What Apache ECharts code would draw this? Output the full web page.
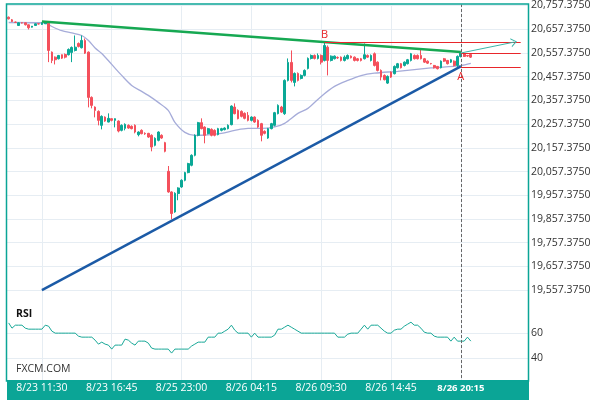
<!DOCTYPE html>
<html><head><meta charset="utf-8">
<script src="https://cdn.jsdelivr.net/npm/echarts@6/dist/echarts.min.js"></script>
<style>html,body{margin:0;padding:0;background:#fff}#c{width:600px;height:400px}</style>
</head><body><div id="c"></div>
<script>
// ---- axis slots & tick labels ----
const slotCount = 157;
const tickIndex = [10, 31, 52, 73, 94, 115, 136];
const tickLabels = ['8/23 11:30', '8/23 16:45', '8/25 23:00', '8/26 04:15', '8/26 09:30', '8/26 14:45', '8/26 20:15'];
const priceTickValues = [19557.375, 19657.375, 19757.375, 19857.375, 19957.375, 20057.375, 20157.375, 20257.375, 20357.375, 20457.375, 20557.375, 20657.375, 20757.375];
const rsiTickValues = [40, 60];

// ---- candles (15 min) ----
const opens = [20708.1,20697.1,20687.0,20673.1,20684.5,20684.5,20676.1,20666.0,20673.1,20680.3,
20677.4,20680.3,20682.8,20560.7,20539.7,20532.9,20549.8,20551.0,20549.8,20559.5,
20567.9,20597.3,20579.3,20610.0,20560.7,20370.0,20329.1,20311.0,20252.1,20287.0,
20266.0,20280.3,20273.1,20270.2,20231.0,20239.4,20252.1,20247.9,20252.1,20212.9,
20231.0,20218.4,20218.4,20210.0,20167.9,20188.9,20210.0,20179.2,20058.4,19971.3,
19887.0,19964.5,19992.3,20020.5,20052.9,20083.7,20125.8,20210.0,20263.4,20244.9,
20217.1,20235.2,20231.0,20212.9,20231.0,20234.0,20238.2,20255.0,20329.1,20315.2,
20311.0,20302.6,20294.2,20273.1,20287.0,20273.1,20259.3,20226.8,20198.6,20238.2,
20252.1,20301.4,20329.1,20301.4,20441.6,20517.4,20433.1,20471.0,20450.0,20462.6,
20492.1,20534.2,20546.8,20534.2,20546.8,20525.8,20581.8,20525.8,20532.9,20538.4,
20539.7,20525.8,20532.9,20543.9,20539.7,20532.9,20532.9,20532.9,20546.8,20525.8,
20554.0,20518.6,20483.7,20462.6,20430.2,20476.5,20469.8,20495.0,20511.9,20504.7,
20511.9,20525.8,20546.8,20546.8,20546.8,20532.9,20522.8,20513.1,20504.7,20500.5,
20495.0,20532.9,20525.8,20518.6,20522.8,20504.7,20542.6,20554.0,20546.8,20551.0];
const closes = [20701.3,20690.0,20686.2,20684.5,20683.7,20676.1,20663.5,20670.2,20680.3,20679.5,
20684.5,20687.0,20567.9,20525.8,20528.7,20546.8,20535.5,20539.7,20572.1,20580.5,
20581.8,20584.7,20610.0,20556.5,20370.0,20336.3,20315.2,20273.1,20290.0,20270.2,
20281.6,20273.1,20280.3,20228.1,20252.1,20256.3,20240.7,20238.2,20223.9,20223.9,
20217.1,20216.3,20202.8,20160.7,20197.4,20223.9,20198.6,20142.6,19971.3,19880.3,
19965.8,19988.1,20020.5,20052.9,20090.8,20125.8,20210.0,20263.4,20238.2,20210.0,
20238.2,20210.0,20210.0,20238.2,20238.2,20240.7,20252.1,20333.3,20301.4,20280.3,
20290.0,20281.6,20273.1,20287.0,20266.0,20244.9,20210.0,20218.4,20238.2,20259.3,
20305.6,20336.3,20308.1,20441.6,20517.4,20441.6,20471.0,20441.6,20462.6,20483.7,
20534.2,20546.8,20534.2,20546.8,20518.6,20588.9,20525.8,20543.9,20543.9,20536.3,
20525.8,20539.7,20546.8,20537.1,20525.8,20525.8,20525.8,20549.8,20539.7,20546.8,
20504.7,20483.7,20455.5,20444.5,20458.4,20455.5,20500.5,20511.9,20495.0,20518.6,
20528.7,20554.0,20532.9,20532.9,20532.9,20518.6,20514.4,20511.9,20495.0,20490.8,
20522.8,20522.8,20511.9,20528.7,20504.7,20542.6,20556.5,20542.6,20544.3,20539.7];
const lows = [20698.4,20687.9,20683.7,20671.0,20681.6,20673.1,20656.3,20664.7,20671.0,20677.4,
20675.2,20679.5,20518.6,20514.4,20508.9,20530.0,20532.1,20534.2,20546.8,20518.6,
20563.7,20580.5,20576.3,20553.1,20327.9,20323.7,20285.8,20252.1,20235.2,20266.8,
20264.7,20268.9,20243.7,20222.6,20226.8,20231.0,20237.4,20235.2,20218.4,20205.8,
20214.2,20212.1,20199.5,20142.6,20163.7,20184.7,20195.3,20138.4,19967.9,19856.3,
19883.6,19936.3,19988.9,20016.3,20050.0,20079.5,20121.6,20205.8,20235.2,20176.3,
20214.2,20205.8,20205.8,20210.0,20226.8,20231.0,20235.2,20252.1,20298.4,20277.4,
20285.8,20277.4,20268.9,20268.9,20262.6,20241.6,20184.7,20214.2,20195.3,20235.2,
20247.9,20298.4,20304.7,20296.3,20437.3,20433.1,20416.3,20437.3,20445.8,20458.4,
20487.9,20530.0,20530.0,20530.0,20508.9,20521.6,20462.6,20521.6,20530.0,20532.1,
20521.6,20521.6,20530.0,20534.2,20521.6,20521.6,20521.6,20530.0,20536.3,20521.6,
20500.5,20479.5,20441.6,20441.6,20426.8,20452.1,20466.8,20492.1,20492.1,20500.5,
20508.9,20521.6,20530.0,20530.0,20530.0,20515.2,20511.0,20508.9,20492.1,20487.9,
20492.1,20519.5,20508.9,20515.2,20500.5,20498.4,20538.4,20540.5,20540.5,20536.3];
const highs = [20711.0,20700.5,20690.0,20685.8,20685.8,20685.8,20677.4,20671.0,20681.6,20681.6,
20685.8,20690.0,20685.8,20563.7,20542.6,20548.9,20551.0,20555.2,20576.3,20584.7,
20631.0,20601.6,20631.0,20618.4,20563.7,20374.2,20332.1,20315.2,20294.2,20290.0,
20302.6,20281.6,20281.6,20273.1,20256.3,20260.5,20256.3,20252.1,20256.3,20226.8,
20235.2,20222.6,20220.5,20214.2,20201.6,20226.8,20214.2,20182.6,20080.7,19974.2,
19970.0,19991.0,20024.7,20056.3,20094.2,20130.0,20214.2,20266.8,20281.6,20247.9,
20241.6,20239.4,20235.2,20241.6,20241.6,20243.7,20256.3,20336.3,20344.7,20319.5,
20315.2,20306.8,20308.1,20290.0,20290.0,20277.4,20262.6,20231.0,20241.6,20262.6,
20308.9,20340.5,20334.2,20445.8,20534.2,20567.9,20475.2,20475.2,20466.8,20487.9,
20538.4,20551.0,20551.0,20555.2,20551.0,20603.0,20588.9,20546.8,20546.8,20542.6,
20542.6,20546.8,20551.0,20546.8,20542.6,20536.3,20536.3,20597.3,20551.0,20551.0,
20559.5,20521.6,20487.9,20466.8,20462.6,20479.5,20504.7,20515.2,20515.2,20521.6,
20532.1,20557.4,20551.0,20551.0,20570.8,20536.3,20525.8,20515.2,20506.8,20502.6,
20525.8,20536.3,20527.9,20532.1,20525.8,20546.8,20559.5,20557.4,20548.9,20555.2];

// ---- moving average (read at points) ----
const maPoints = [[0,20685.8],[11,20683.7],[13,20668.9],[16,20651.0],[19,20641.6],[22,20631.0],[24,20610.0],
[26,20578.4],[28,20555.2],[31,20509.0],[34,20462.6],[37,20420.5],[40,20395.3],[42,20378.4],[45,20348.9],
[48,20315.2],[50,20264.7],[53,20222.6],[56,20210.0],[60,20212.1],[64,20218.4],[68,20231.0],[72,20239.4],
[76,20239.4],[80,20245.8],[83,20260.5],[87,20302.6],[90,20323.7],[94,20374.2],[98,20416.3],[102,20441.6],
[106,20462.0],[110,20472.0],[117,20480.0],[127,20494.0],[136,20504.0],[139,20513.0]];

// ---- RSI ----
const rsiValues = [68.2,64,66.4,66.4,66.4,64,63.2,63.2,63.2,63.2,
63.2,66.4,65.6,61.6,60,60,60,60,60,60,
60,57.6,56.8,56.8,56.8,56.8,54.4,51.2,52.8,51.2,
50.4,47.2,50.4,50.4,50.4,55.2,54.4,52,50.4,53.6,
53.6,53.6,52,48,47.2,47.2,47.2,47.2,47.2,44,
47.2,47.2,47.2,47.2,47.2,49.6,51.2,52.8,52.8,52.8,
56.8,56.8,56.8,60,60,61.6,63.2,66.4,62.4,60,
60,60,60,56.8,60,56.8,56.8,56.8,56.8,56.8,
58.4,63.2,63.2,64.8,66.4,64.8,63.2,61.6,60,60,
60,60,60,60,60,60,60,60,60,56.8,
56.8,56.8,59.2,60,60,60,63.2,66.4,63.2,66.4,
66.4,66.4,64,61.6,60,60,62.4,63.2,63.2,65.6,
67.2,68.8,66.4,66.4,64,60.8,60,60,57.6,56.8,
56.8,56.8,56.8,53.6,56.8,53.6,53.6,53.6,56.8,53.6];

// ---- drawn studies ----
const greenTrend = [[10, 20690.0], [136, 20561.2]];
const blueTrend = [[10, 19557.4], [136, 20500.5]];
const levelB = [[95, 20603.0], [154, 20603.0]];
const levelUpper = [[136, 20557.0], [154, 20557.0]];
const levelLower = [[136, 20496.3], [154, 20496.3]];
const projection = [[136, 20557.0], [152, 20603.0]];
const pointB = [95, 20603.0];
const pointA = [136, 20500.5];
const currentIndex = 136;

// ---------------------------------------------------------
const slots = [];
for (let i = 0; i < slotCount; i++) slots.push(String(i));
const candleData = opens.map((o, i) => [o, closes[i], lows[i], highs[i]]);

const FONT = '"Open Sans", "Noto Sans", sans-serif';
const GRIDC = '#e6edf3';
const TEAL = '#0ba596';
const RED = '#e8262b';

function fmtPrice(v) {
  const s = v.toFixed(4);
  const parts = s.split('.');
  return parts[0].replace(/\B(?=(\d{3})+(?!\d))/g, ',') + '.' + parts[1];
}
function priceLabel(v) {
  for (const t of priceTickValues) if (Math.abs(t - v) < 1) return fmtPrice(t);
  return '';
}
const isTick = (i) => tickIndex.indexOf(i) >= 0;

function xBase(gi) {
  return {
    type: 'category', gridIndex: gi, data: slots, boundaryGap: true,
    axisLine: { show: false }, axisTick: { show: false }, axisLabel: { show: false },
    splitLine: { show: true, alignWithLabel: true, interval: (i) => isTick(i), lineStyle: { color: GRIDC, width: 1 } }
  };
}
const xBand = Object.assign(xBase(2), {
  position: 'top', z: 11,
  splitLine: { show: false },
  axisLabel: {
    show: true, inside: true, margin: 3, interval: (i) => isTick(i),
    color: '#fff', fontSize: 10.5, fontFamily: FONT,
    formatter: (v) => {
      const k = tickIndex.indexOf(Number(v));
      if (k < 0) return '';
      return Number(v) === currentIndex ? '{b|' + tickLabels[k] + '}' : tickLabels[k];
    },
    rich: { b: { color: '#fff', fontWeight: 'bold', fontSize: 9.5, fontFamily: FONT } }
  }
});

const mlLine = (pts, style) => [{ coord: pts[0], symbol: 'none', lineStyle: style }, { coord: pts[1], symbol: 'none' }];

const chevron = 'path://M0,10 L5,0 L10,10 L8.6,10 L5,2.8 L1.4,10 Z';

const option = {
  animation: false,
  backgroundColor: '#fff',
  grid: [
    { left: 7, right: 71, top: 4, height: 298 },
    { left: 7, right: 71, top: 302, height: 81 },
    { left: 7, right: 71, top: 380, height: 20, show: true, backgroundColor: TEAL, borderWidth: 0, z: 10 }
  ],
  xAxis: [xBase(0), xBase(1), xBand],
  yAxis: [
    {
      type: 'value', gridIndex: 0, position: 'right', min: 19507.375, max: 20761.6, interval: 50,
      axisLine: { show: false }, axisTick: { show: false },
      axisLabel: { margin: 2, color: '#333', fontSize: 10.5, fontFamily: FONT, formatter: priceLabel,
        showMaxLabel: true, showMinLabel: true, hideOverlap: false },
      splitLine: { show: true, lineStyle: { color: ['rgba(0,0,0,0)', GRIDC], width: 1 } }
    },
    {
      type: 'value', gridIndex: 1, position: 'right', min: 20, max: 85, interval: 20,
      axisLine: { show: false }, axisTick: { show: false },
      axisLabel: { margin: 2, color: '#333', fontSize: 10.5, fontFamily: FONT,
        formatter: (v) => rsiTickValues.indexOf(Math.round(v)) >= 0 ? String(Math.round(v)) : '' },
      splitLine: { show: true, lineStyle: { color: ['rgba(0,0,0,0)', GRIDC, GRIDC, 'rgba(0,0,0,0)', 'rgba(0,0,0,0)'], width: 1 } }
    },
    { type: 'value', gridIndex: 2, show: false }
  ],
  graphic: [
    { type: 'rect', silent: true, z: 20, shape: { x: 6.5, y: 4, width: 522, height: 377 },
      style: { fill: 'none', stroke: TEAL, lineWidth: 1.5 } },
    { type: 'text', silent: true, left: 16, top: 309, z: 20,
      style: { text: 'RSI', font: 'bold 10.5px ' + FONT, fill: '#111' } },
    { type: 'text', silent: true, left: 16, top: 364, z: 20,
      style: { text: 'FXCM.COM', font: '10.5px ' + FONT, fill: '#333' } }
  ],
  series: [
    {
      type: 'candlestick', xAxisIndex: 0, yAxisIndex: 0, data: candleData, barWidth: 2.2,
      itemStyle: { color: '#0aa896', color0: '#f4505c', borderColor: '#0aa896', borderColor0: '#f4505c', borderWidth: 1 },
      markLine: {
        silent: true, animation: false, symbol: ['none', 'none'], label: { show: false },
        data: [
          mlLine(greenTrend, { color: '#16a852', width: 2.6, type: 'solid' }),
          mlLine(blueTrend, { color: '#1b5aa6', width: 2.4, type: 'solid' }),
          mlLine(levelB, { color: RED, width: 1, type: 'solid' }),
          mlLine(levelUpper, { color: RED, width: 1, type: 'solid' }),
          mlLine(levelLower, { color: RED, width: 1, type: 'solid' }),
          [
            { coord: projection[0], symbol: 'none', lineStyle: { color: '#3cb6a9', width: 1, type: 'solid', curveness: -0.06 } },
            { coord: projection[1], symbol: chevron, symbolSize: [9, 6] }
          ],
          { xAxis: currentIndex, lineStyle: { color: '#666', width: 1, type: [3, 2] } }
        ]
      },
      markPoint: {
        silent: true, animation: false, symbol: 'circle', symbolSize: 1,
        itemStyle: { color: 'rgba(0,0,0,0)' },
        data: [
          { name: 'B', coord: pointB, label: { show: true, position: 'top', distance: 1, formatter: '{b}', color: RED, fontSize: 11, fontFamily: FONT } },
          { name: 'A', coord: pointA, label: { show: true, position: 'bottom', distance: 4, formatter: '{b}', color: RED, fontSize: 11, fontFamily: FONT } }
        ]
      }
    },
    {
      type: 'line', xAxisIndex: 0, yAxisIndex: 0, data: maPoints, showSymbol: false, smooth: 0.3,
      lineStyle: { color: '#a6acd9', width: 1.3 }, z: 1
    },
    {
      type: 'line', xAxisIndex: 1, yAxisIndex: 1, data: rsiValues, showSymbol: false,
      lineStyle: { color: '#19a898', width: 1 },
      markLine: {
        silent: true, animation: false, symbol: ['none', 'none'], label: { show: false },
        data: [{ xAxis: currentIndex, lineStyle: { color: '#666', width: 1, type: [3, 2] } }]
      }
    }
  ]
};

const chart = echarts.init(document.getElementById('c'), null, { renderer: 'canvas' });
chart.setOption(option);
</script>
</body></html>
